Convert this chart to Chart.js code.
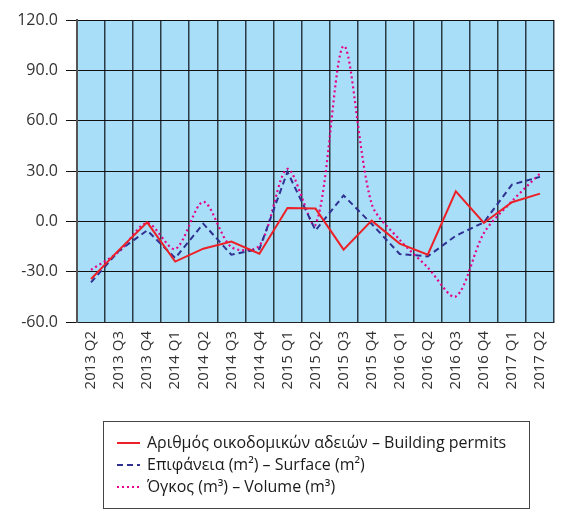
<!DOCTYPE html>
<html>
<head>
<meta charset="utf-8">
<script src="https://cdn.jsdelivr.net/npm/chart.js@4/dist/chart.umd.min.js"></script>
<style>
  body { margin: 0; background: #fff; }
  #wrap { width: 567px; height: 510px; position: relative; }
</style>
</head>
<body>
<div id="wrap"><canvas id="permitsChart"></canvas></div>
<script>
const quarters = ["2013 Q2", "2013 Q3", "2013 Q4", "2014 Q1", "2014 Q2", "2014 Q3", "2014 Q4",
  "2015 Q1", "2015 Q2", "2015 Q3", "2015 Q4", "2016 Q1", "2016 Q2", "2016 Q3", "2016 Q4",
  "2017 Q1", "2017 Q2"];
const permits = [-34.4, -17, -0.6, -24, -16.3, -12.1, -19.3, 8.0, 7.6, -16.9, 0.4, -13.3, -19.9, 17.9, -1, 11.4, 16.5];
const surface = [-36.4, -17.5, -5.4, -21.9, -1.4, -19.9, -16.5, 29.5, -5.4, 15.4, -1.5, -19.5, -20.9, -8.6, -0.6, 21.9, 26.5];
const volume = [-28.9, -18, -1, -16.5, 11.6, -15.3, -14.5, 31.3, -2, 104.5, 10.5, -11, -27.5, -44.8, -7, 12, 28.5];
const yTicks = [-60, -30, 0, 30, 60, 90, 120];

const FONT = "'Open Sans', 'Noto Sans', sans-serif";

// light blue plot area
const plotBg = {
  id: 'plotBg',
  beforeDraw(chart) {
    const {ctx, chartArea: a} = chart;
    ctx.save();
    ctx.fillStyle = '#A9DEF8';
    ctx.fillRect(a.left, a.top, a.right - a.left, a.bottom - a.top);
    ctx.restore();
  }
};

// boxed legend under the axis labels
const boxLegend = {
  id: 'boxLegend',
  afterDraw(chart) {
    const ctx = chart.ctx;
    ctx.save();
    ctx.strokeStyle = '#444';
    ctx.lineWidth = 1;
    ctx.strokeRect(103.5, 421.5, 426, 87);
    ctx.font = '16px ' + FONT;
    ctx.textBaseline = 'middle';
    chart.data.datasets.forEach((ds, i) => {
      const y = 443 + 22 * i;
      ctx.beginPath();
      ctx.strokeStyle = ds.borderColor;
      ctx.lineWidth = 2;
      ctx.setLineDash(ds.borderDash || []);
      ctx.moveTo(117, y);
      ctx.lineTo(140, y);
      ctx.stroke();
      ctx.setLineDash([]);
      ctx.fillStyle = '#1a1a1a';
      ctx.fillText(ds.label, 147, y);
    });
    ctx.restore();
  }
};

new Chart("permitsChart", {
  type: "line",
  data: {
    labels: quarters,
    datasets: [{
      label: "Αριθμός οικοδομικών αδειών – Building permits",
      data: permits,
      borderColor: "#EC2127",
      borderWidth: 2,
      pointRadius: 0,
      tension: 0,
      fill: false
    },
    {
      label: "Επιφάνεια (m²) – Surface (m²)",
      data: surface,
      borderColor: "#2E3192",
      borderWidth: 2,
      borderDash: [6, 4],
      pointRadius: 0,
      tension: 0,
      fill: false
    },
    {
      label: "Όγκος (m³) – Volume (m³)",
      data: volume,
      borderColor: "#E6008A",
      borderWidth: 2.2,
      borderDash: [2, 3],
      pointRadius: 0,
      tension: 0.3,
      fill: false
    }]
  },
  options: {
    responsive: true,
    maintainAspectRatio: false,
    animation: false,
    layout: { padding: { top: 20, right: 0, left: 0, bottom: 0 } },
    plugins: {
      legend: { display: false },
      tooltip: { enabled: false }
    },
    scales: {
      x: {
        offset: true,
        grid: { offset: true, color: '#2b3a44', lineWidth: 1.5, drawTicks: false },
        border: { display: true, color: '#222', width: 1 },
        ticks: {
          autoSkip: false,
          minRotation: 90,
          maxRotation: 90,
          padding: 9,
          color: '#333',
          font: { family: FONT, size: 15 }
        },
        afterFit(scale) { scale.height = 188; }
      },
      y: {
        min: -60,
        max: 120,
        afterBuildTicks(scale) { scale.ticks = yTicks.map(v => ({value: v})); },
        grid: { color: '#111', lineWidth: 1, tickLength: 11 },
        border: { display: true, color: '#555', width: 2 },
        ticks: {
          padding: 8,
          color: '#333',
          font: { family: FONT, size: 16 },
          callback: v => v.toFixed(1)
        },
        afterFit(scale) { scale.width = 77; }
      }
    }
  },
  plugins: [plotBg, boxLegend]
});
</script>
</body>
</html>
